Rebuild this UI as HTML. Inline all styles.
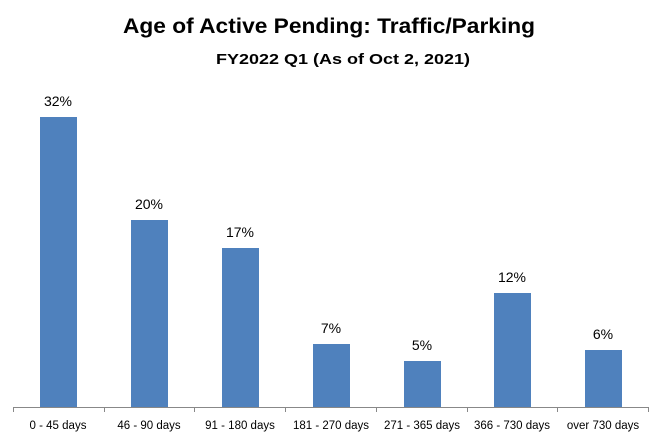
<!DOCTYPE html>
<html><head><style>body{margin:0;background:#fff}</style></head><body>
<svg width="659" height="442" xmlns="http://www.w3.org/2000/svg" font-family="Liberation Sans, sans-serif">
<rect width="659" height="442" fill="#fff"/>
<text x="329" y="33" text-anchor="middle" font-size="21" font-weight="bold" textLength="412" lengthAdjust="spacingAndGlyphs">Age of Active Pending: Traffic/Parking</text>
<text x="343" y="64" text-anchor="middle" font-size="15" font-weight="bold" textLength="254" lengthAdjust="spacingAndGlyphs">FY2022 Q1 (As of Oct 2, 2021)</text>
<g fill="#4f81bd">
<rect x="40" y="117" width="37" height="290"/>
<rect x="131" y="220" width="37" height="187"/>
<rect x="222" y="248" width="37" height="159"/>
<rect x="313" y="344" width="37" height="63"/>
<rect x="404" y="361" width="37" height="46"/>
<rect x="494" y="293" width="37" height="114"/>
<rect x="585" y="350" width="37" height="57"/>
</g>
<g font-size="14" text-anchor="middle" fill="#000">
<text x="58" y="106">32%</text>
<text x="149" y="209">20%</text>
<text x="240" y="237">17%</text>
<text x="331" y="333">7%</text>
<text x="422" y="350">5%</text>
<text x="512" y="282">12%</text>
<text x="603" y="339">6%</text>
</g>
<g stroke="#888" stroke-width="1">
<line x1="13" y1="407.5" x2="649" y2="407.5"/>
<line x1="13.5" y1="407" x2="13.5" y2="412"/>
<line x1="104.5" y1="407" x2="104.5" y2="412"/>
<line x1="194.5" y1="407" x2="194.5" y2="412"/>
<line x1="285.5" y1="407" x2="285.5" y2="412"/>
<line x1="376.5" y1="407" x2="376.5" y2="412"/>
<line x1="467.5" y1="407" x2="467.5" y2="412"/>
<line x1="557.5" y1="407" x2="557.5" y2="412"/>
<line x1="648.5" y1="407" x2="648.5" y2="412"/>
</g>
<g font-size="11.5" text-anchor="middle" fill="#000">
<text x="58" y="429">0 - 45 days</text>
<text x="149" y="429">46 - 90 days</text>
<text x="240" y="429">91 - 180 days</text>
<text x="331" y="429">181 - 270 days</text>
<text x="422" y="429">271 - 365 days</text>
<text x="512" y="429">366 - 730 days</text>
<text x="603" y="429">over 730 days</text>
</g>
</svg>
</body></html>
